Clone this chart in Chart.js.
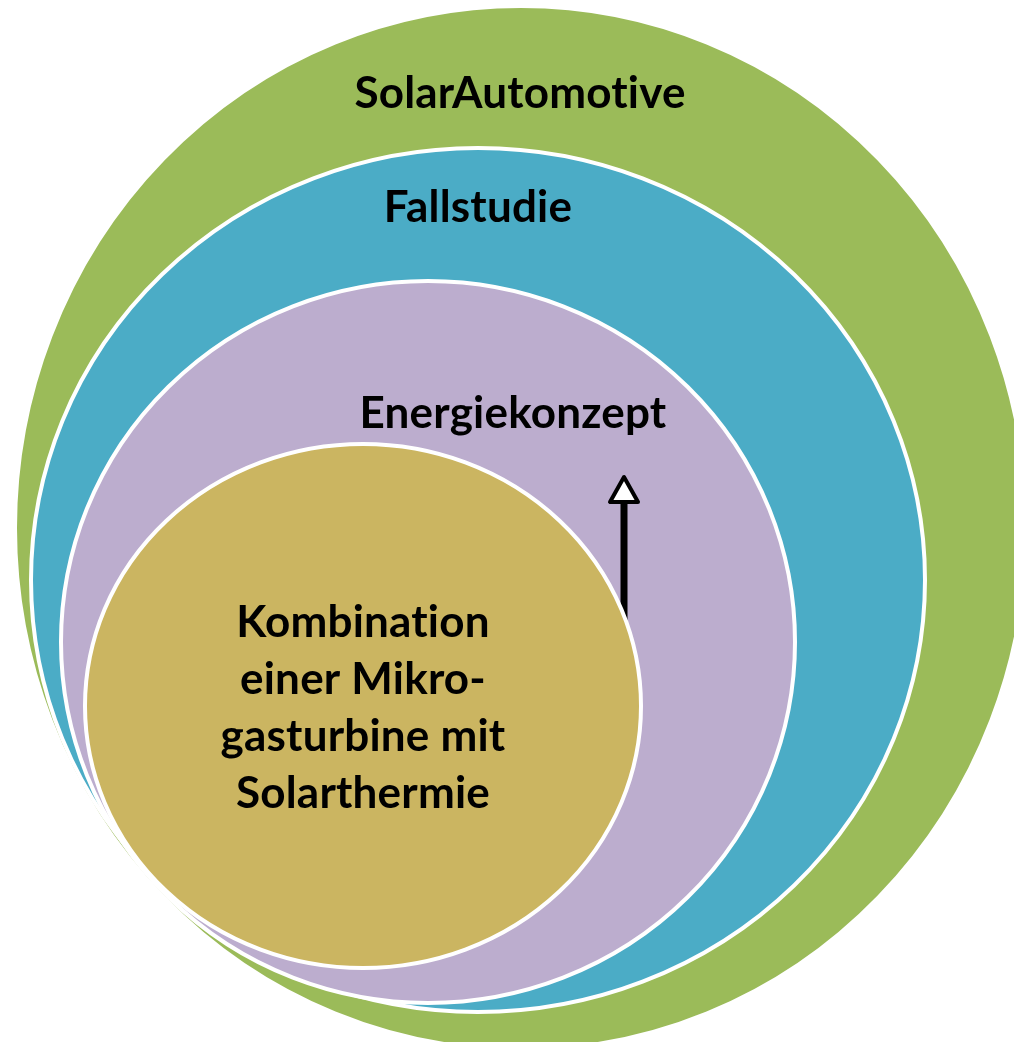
<!DOCTYPE html>
<html>
<head>
<meta charset="utf-8">
<script src="https://cdn.jsdelivr.net/npm/chart.js@4.4.1/dist/chart.umd.min.js"></script>
<style>
  html, body { margin: 0; padding: 0; background: #fff; }
  #wrap { width: 1014px; height: 1042px; }
</style>
</head>
<body>
<div id="wrap"><canvas id="ctx1" width="1014" height="1042"></canvas></div>
<script>
// nested ellipses, outermost first (values in picture pixels)
var ringNames = ['SolarAutomotive', 'Fallstudie', 'Energiekonzept', 'Kombination'];
var centerX = [521, 478, 428, 363];
var centerY = [528, 580, 642, 706];
var radiusX = [506, 447, 367, 278];
var radiusY = [522, 432, 361, 262];
var ringColors = ['#9BBB59', '#4BACC6', '#BCADCE', '#CBB561'];

// text labels
var labelLines = [
  ['SolarAutomotive'],
  ['Fallstudie'],
  ['Energiekonzept'],
  ['Kombination', 'einer Mikro-', 'gasturbine mit', 'Solarthermie']
];
var labelX = [520, 478, 513, 363];
var labelY = [108, 222, 428, 637];   // baseline of first line
var lineStep = 57;

// arrow (x, from y, to y)
var arrowX = 624;
var arrowFrom = 640;
var arrowTo = 477;

var ellipsePlugin = {
  id: 'ellipses',
  beforeDatasetsDraw: function(chart) {
    var c = chart.ctx;
    var xs = chart.scales.x, ys = chart.scales.y;
    c.save();
    chart.data.datasets.forEach(function(ds, i) {
      if (i == 3) drawArrow(c, xs, ys);
      var p = ds.data[0];
      var cx = xs.getPixelForValue(p.x);
      var cy = ys.getPixelForValue(p.y);
      var rx = Math.abs(xs.getPixelForValue(p.x + ds.rx) - cx);
      var ry = Math.abs(ys.getPixelForValue(p.y + ds.ry) - cy);
      c.beginPath();
      c.ellipse(cx, cy, rx, ry, 0, 0, Math.PI * 2);
      c.fillStyle = ds.backgroundColor;
      c.fill();
      c.lineWidth = 4;
      c.strokeStyle = '#FFFFFF';
      c.stroke();
    });
    c.restore();
  },
  afterDatasetsDraw: function(chart) {
    var c = chart.ctx;
    var xs = chart.scales.x, ys = chart.scales.y;
    c.save();
    c.fillStyle = '#000';
    c.textAlign = 'center';
    c.textBaseline = 'alphabetic';
    c.font = 'bold 44px Lato';
    c.letterSpacing = '0.2px';   // also stops the "ti" ligature
    labelLines.forEach(function(lines, i) {
      lines.forEach(function(t, j) {
        c.fillText(t, xs.getPixelForValue(labelX[i]), ys.getPixelForValue(labelY[i] + j * lineStep));
      });
    });
    c.restore();
  }
};

function drawArrow(c, xs, ys) {
  var x = xs.getPixelForValue(arrowX);
  var y0 = ys.getPixelForValue(arrowFrom);
  var y1 = ys.getPixelForValue(arrowTo);
  c.save();
  c.strokeStyle = '#000';
  c.lineWidth = 7;
  c.beginPath();
  c.moveTo(x, y0);
  c.lineTo(x, y1 + 25);
  c.stroke();
  c.beginPath();
  c.moveTo(x, y1);
  c.lineTo(x - 14, y1 + 25);
  c.lineTo(x + 14, y1 + 25);
  c.closePath();
  c.fillStyle = '#fff';
  c.fill();
  c.lineWidth = 4;
  c.lineJoin = 'round';
  c.stroke();
  c.restore();
}

new Chart(document.getElementById('ctx1'), {
  type: 'scatter',
  plugins: [ellipsePlugin],
  data: {
    datasets: ringNames.map(function(name, i) {
      return {
        label: name,
        data: [{x: centerX[i], y: centerY[i]}],
        rx: radiusX[i],
        ry: radiusY[i],
        backgroundColor: ringColors[i],
        pointRadius: 0,
      };
    }),
  },
  options: {
    responsive: false,
    animation: false,
    layout: { padding: 0 },
    scales: {
      x: { type: 'linear', min: 0, max: 1014, display: false },
      y: { type: 'linear', min: 0, max: 1042, reverse: true, display: false },
    },
    plugins: {
      legend: { display: false },
      tooltip: { enabled: false },
    },
  },
});
</script>
</body>
</html>
